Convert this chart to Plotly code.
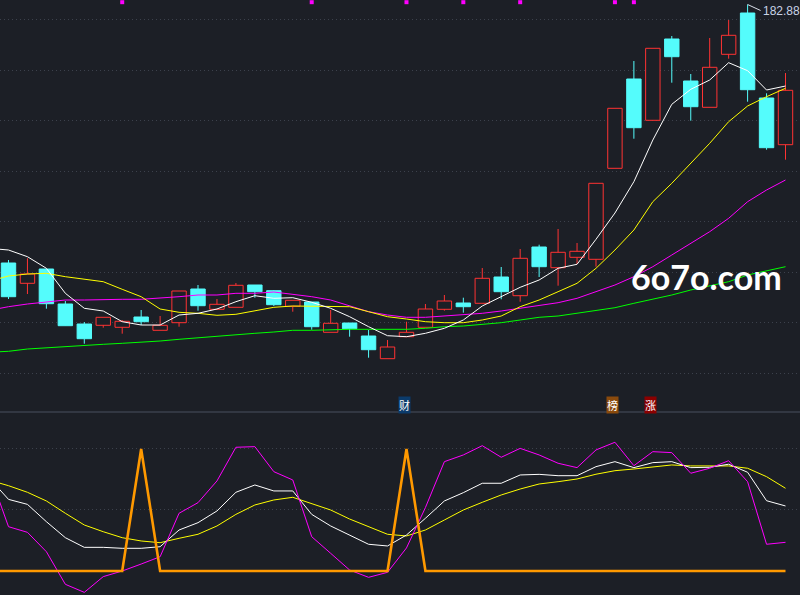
import plotly.graph_objects as go

# ---------------- data ----------------
candle_idx = list(range(42))
opens = [141.52, 138.27, 140.56, 134.96, 131.76, 131.55, 131.23, 132.88, 130.75, 131.97,
         137.36, 134.11, 134.43, 138.00, 137.09, 134.59, 135.28, 130.43, 131.92, 129.84,
         126.21, 129.73, 131.23, 134.11, 135.12, 135.07, 139.28, 136.29, 144.08, 140.77,
         142.43, 142.11, 156.67, 170.96, 164.35, 177.36, 170.64, 166.43, 174.91, 181.52,
         167.92, 160.45]
highs = [142.00, 142.27, 140.56, 135.44, 132.08, 132.83, 132.40, 134.00, 133.04, 137.04,
         138.00, 135.76, 138.32, 138.00, 137.20, 135.55, 135.28, 134.00, 131.92, 130.80,
         129.20, 132.13, 134.96, 136.40, 135.97, 140.72, 140.88, 143.76, 144.45, 146.96,
         144.72, 154.27, 166.27, 173.84, 175.87, 177.84, 171.76, 177.52, 180.40, 182.88,
         168.67, 171.92]
lows = [135.76, 136.56, 134.21, 131.44, 128.61, 131.17, 130.21, 131.60, 130.75, 131.33,
        133.89, 134.00, 134.43, 135.97, 134.64, 133.73, 130.85, 130.43, 129.73, 126.37,
        126.21, 129.73, 131.23, 133.89, 133.57, 135.07, 135.71, 135.33, 139.28, 137.89,
        141.36, 140.93, 156.67, 161.41, 164.35, 170.37, 164.29, 166.43, 174.21, 167.33,
        159.65, 158.05]
closes = [136.13, 139.76, 135.01, 131.49, 129.41, 132.83, 132.19, 132.13, 131.55, 137.04,
          134.69, 134.91, 137.95, 136.93, 134.85, 135.55, 131.33, 131.87, 131.01, 127.65,
          128.08, 130.43, 134.16, 135.44, 134.53, 139.07, 136.93, 142.27, 140.93, 143.23,
          143.39, 154.27, 166.27, 163.17, 175.87, 174.53, 166.53, 172.83, 177.95, 169.25,
          159.97, 169.15]

# moving averages (first value belongs to the session before the visible window)
ma_idx = list(range(-1, 42))
ma5 = [143.86, 143.60, 142.53, 140.67, 136.67, 134.27, 133.84, 132.13, 131.60, 131.60,
       133.20, 133.47, 134.16, 135.33, 136.29, 135.87, 135.97, 135.23, 134.27, 132.93,
       131.33, 129.89, 129.73, 130.27, 131.07, 132.40, 134.64, 136.13, 137.63, 138.80,
       140.67, 141.31, 145.31, 149.52, 154.53, 161.20, 166.91, 169.31, 170.80, 173.57,
       172.29, 169.20, 169.84]
ma10 = [138.62, 139.44, 139.76, 139.87, 139.33, 138.96, 138.53, 137.31, 136.13, 134.16,
        133.63, 133.47, 133.15, 133.31, 133.89, 134.43, 134.64, 134.64, 134.59, 134.53,
        133.73, 132.93, 132.56, 132.13, 131.97, 131.97, 132.40, 133.04, 134.53, 135.60,
        136.93, 138.27, 140.67, 143.60, 146.80, 151.33, 154.27, 157.47, 160.67, 164.13,
        166.64, 168.13, 169.47]
ma20 = [133.95, 134.53, 134.96, 135.33, 135.60, 135.60, 135.71, 135.71, 135.71, 135.87,
        136.13, 136.40, 136.40, 136.67, 136.67, 136.88, 136.56, 136.13, 135.60, 134.64,
        133.73, 133.20, 132.83, 132.83, 133.04, 133.20, 133.47, 133.84, 134.27, 134.69,
        135.17, 135.87, 136.93, 138.00, 139.33, 140.93, 142.80, 144.67, 146.53, 148.67,
        151.33, 153.20, 154.80]
ma60 = [127.25, 127.39, 127.76, 127.97, 128.13, 128.35, 128.51, 128.67, 128.83, 129.04,
        129.31, 129.57, 129.84, 130.00, 130.27, 130.48, 130.75, 130.75, 130.85, 130.91,
        130.91, 130.91, 130.91, 131.07, 131.33, 131.44, 131.71, 131.97, 132.40, 132.83,
        133.04, 133.47, 133.84, 134.37, 135.07, 135.71, 136.40, 137.20, 137.84, 138.53,
        139.60, 140.24, 140.93]

# indicator panel (K, D, J and signal line)
k_line = [75.9, 58.7, 54.6, 40.4, 27.3, 19.4, 19.4, 18.6, 18.6, 19.9, 33.6, 39.6, 49.2,
          64.5, 70.5, 65.6, 65.6, 46.4, 36.9, 29.5, 21.9, 20.5, 29.5, 43.2, 57.4, 64.2,
          71.9, 71.9, 78.7, 79.2, 78.1, 78.1, 85.5, 89.6, 84.7, 88.8, 89.6, 84.7, 85.0,
          87.5, 80.9, 57.6, 53.3]
d_line = [74.4, 69.9, 64.5, 57.4, 47.3, 37.7, 32.2, 27.3, 24.6, 23.2, 26.8, 30.1, 36.9,
          46.4, 54.1, 58.2, 60.4, 55.5, 50.0, 42.6, 36.3, 30.1, 28.7, 33.6, 41.8, 50.0,
          56.3, 62.3, 67.2, 71.3, 73.2, 75.4, 79.3, 82.2, 83.6, 85.5, 86.9, 86.1, 86.1,
          86.1, 84.2, 77.3, 67.8]
j_line = [80.0, 36.3, 31.7, 15.8, -10.9, -17.5, -4.6, 0.0, 5.7, 11.7, 47.3, 56.0, 73.8,
          101.4, 101.9, 81.4, 74.6, 28.1, 14.5, 0.8, -5.2, -1.1, 18.9, 52.0, 89.6, 95.1,
          102.7, 93.2, 100.5, 95.1, 88.3, 84.7, 99.2, 105.5, 86.3, 97.8, 97.0, 80.1, 84.2,
          90.4, 73.2, 21.9, 23.5]
signal_line = [0, 0, 0, 0, 0, 0, 0, 0, 100, 0, 0, 0, 0, 0, 0, 0, 0, 0, 0, 0, 0, 0, 100,
               0, 0, 0, 0, 0, 0, 0, 0, 0, 0, 0, 0, 0, 0, 0, 0, 0, 0, 0, 0]

top_marks = [6, 16, 21, 24, 27, 32, 33]
event_tags = [(21, "财", "#0b3b6b"), (32, "榜", "#8a4a0c"), (34, "涨", "#8b0000")]
high_label = "182.88"
watermark = "6o7o.com"

# ---------------- style ----------------
BG = "#1c1f26"
RED = "#ff3333"
CYAN = "#54fcfc"
GRID = "#3c414c"
MAIN_BOTTOM = 1 - 412 / 595

fig = go.Figure()

# wicks
def wick_xy(sel):
    xs, ys = [], []
    for i in sel:
        top = max(opens[i], closes[i])
        bot = min(opens[i], closes[i])
        xs += [i, i, None, i, i, None]
        ys += [highs[i], top, None, bot, lows[i], None]
    return xs, ys

up = [i for i in candle_idx if closes[i] >= opens[i]]
dn = [i for i in candle_idx if closes[i] < opens[i]]

for sel, col in ((up, RED), (dn, CYAN)):
    xs, ys = wick_xy(sel)
    fig.add_trace(go.Scatter(x=xs, y=ys, mode="lines", line=dict(color=col, width=1),
                             hoverinfo="skip", showlegend=False))

fig.add_trace(go.Bar(x=up, base=[opens[i] for i in up],
                     y=[closes[i] - opens[i] for i in up], width=0.76,
                     marker=dict(color=BG, line=dict(color=RED, width=1)),
                     showlegend=False))
fig.add_trace(go.Bar(x=dn, base=[closes[i] for i in dn],
                     y=[opens[i] - closes[i] for i in dn], width=0.76,
                     marker=dict(color=CYAN, line=dict(color=CYAN, width=1)),
                     showlegend=False))

for vals, col in ((ma60, "#00ff00"), (ma20, "#ff00ff"), (ma10, "#ffff00"), (ma5, "#ffffff")):
    fig.add_trace(go.Scatter(x=ma_idx, y=vals, mode="lines", line=dict(color=col, width=1),
                             showlegend=False))

fig.add_trace(go.Scatter(x=top_marks, y=[183.25] * len(top_marks), mode="markers",
                         marker=dict(symbol="square", size=4, color="#ff00ff"),
                         cliponaxis=False, showlegend=False))

# lower panel
for vals, col, w in ((d_line, "#ffff00", 1), (k_line, "#ffffff", 1), (j_line, "#ff00ff", 1),
                     (signal_line, "#ff9900", 2.6)):
    fig.add_trace(go.Scatter(x=ma_idx, y=vals, mode="lines", line=dict(color=col, width=w),
                             xaxis="x", yaxis="y2", showlegend=False))

# annotations
fig.add_annotation(x=39, y=highs[39], xref="x", yref="y", text=high_label,
                   showarrow=True, arrowhead=0, arrowwidth=1, arrowcolor="#d8dde8",
                   ax=13, ay=6, xanchor="left", yanchor="middle",
                   font=dict(family="Liberation Sans", size=12, color="#c9d3e6"))
fig.add_annotation(x=0.8825, y=1 - 276 / 595, xref="paper", yref="paper", text=f"<b>{watermark}</b>",
                   xanchor="center", yanchor="middle",
                   showarrow=False, font=dict(family="Lato", size=34, color="#ffffff"))
for i, txt, col in event_tags:
    fig.add_annotation(x=i, y=1 - 404.5 / 595, xref="x", yref="paper", text=txt,
                       xanchor="center", yanchor="middle",
                       showarrow=False, bgcolor=col, borderpad=0, xshift=-2,
                       font=dict(family="Noto Sans CJK SC", size=11, color="#ffffff"))

fig.add_shape(type="line", xref="paper", yref="paper", x0=0, x1=1, y0=MAIN_BOTTOM, y1=MAIN_BOTTOM,
              line=dict(color="#3a414d", width=1.5))

fig.update_layout(
    width=800, height=595, autosize=False,
    margin=dict(l=0, r=0, t=0, b=0),
    paper_bgcolor=BG, plot_bgcolor=BG,
    barmode="overlay", showlegend=False,
    xaxis=dict(range=[-0.4485, 41.765], showgrid=False, zeroline=False, showticklabels=False,
               ticks="", showline=False),
    yaxis=dict(domain=[MAIN_BOTTOM, 1], range=[117.68, 183.6], tick0=132, dtick=8.08,
               showgrid=True, gridcolor=GRID, griddash="1px,3px", gridwidth=1,
               zeroline=False, showticklabels=False, ticks=""),
    yaxis2=dict(domain=[0, MAIN_BOTTOM], range=[-19.67, 130.3], tickvals=[50, 100],
                showgrid=True, gridcolor=GRID, griddash="1px,3px", gridwidth=1,
                zeroline=False, showticklabels=False, ticks="", anchor="x"),
)

fig.write_html("out.html", config={"displayModeBar": False},
               post_script="document.body.style.margin='0';document.body.style.background='#1c1f26';")
